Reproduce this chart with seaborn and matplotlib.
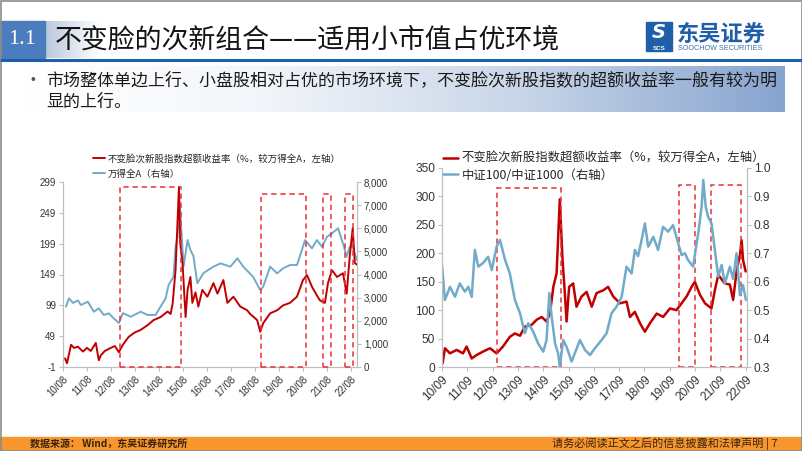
import matplotlib
matplotlib.use("Agg")
import matplotlib.dates as mdates
import matplotlib.pyplot as plt
import numpy as np
import pandas as pd
import seaborn as sns
from matplotlib.colors import LinearSegmentedColormap
from matplotlib.patches import Rectangle
from matplotlib.ticker import FuncFormatter

# ---- text ----
title_num = "1.1"
title_text = "不变脸的次新组合——适用小市值占优环境"
bullet_lines = [
    "市场整体单边上行、小盘股相对占优的市场环境下，不变脸次新股指数的超额收益率一般有较为明",
    "显的上行。",
]
source_text = "数据来源： Wind，东吴证券研究所"
disclaimer_text = "请务必阅读正文之后的信息披露和法律声明 | 7"
red_label = "不变脸次新股指数超额收益率（%，较万得全A，左轴）"
left_blue_label = "万得全A（右轴）"
right_blue_label = "中证100/中证1000（右轴）"

# ---- left chart: excess return vs Wind All A ----
left_red_dates = [
    "2010-09-01", "2010-10-01", "2010-12-01", "2011-01-15", "2011-03-15", "2011-06-01",
    "2011-08-01", "2011-09-28", "2011-12-13", "2012-01-28", "2012-02-28", "2012-04-28",
    "2012-07-28", "2012-09-28", "2012-11-28", "2013-01-28", "2013-04-28", "2013-07-28",
    "2013-10-25", "2014-02-10", "2014-05-10", "2014-08-25", "2014-12-10", "2015-01-25",
    "2015-02-25", "2015-04-10", "2015-06-01", "2015-06-20", "2015-07-25", "2015-09-10",
    "2015-10-10", "2015-11-22", "2015-12-22", "2016-02-07", "2016-03-22", "2016-05-22",
    "2016-08-07", "2016-11-07", "2017-01-07", "2017-04-07", "2017-06-07", "2017-09-07",
    "2017-12-20", "2018-04-04", "2018-05-20", "2018-09-04", "2018-10-20", "2018-12-04",
    "2019-03-20", "2019-07-04", "2019-10-04", "2020-01-16", "2020-05-01", "2020-08-01",
    "2020-10-01", "2020-12-16", "2021-03-01", "2021-04-16", "2021-07-01", "2021-08-16",
    "2021-10-16", "2022-01-01", "2022-04-01", "2022-05-28", "2022-07-13", "2022-08-28",
    "2022-09-28", "2022-10-28",
]
left_red_vals = [
    13, 5, 35, 30, 32, 24, 30, 25, 38, 10, 18, 25, 30, 33, 23, 35, 48, 55, 59, 67,
    75, 80, 89, 85, 102, 156, 291, 200, 168, 80, 124, 145, 103, 120, 97, 124, 113, 135, 118, 140,
    103, 113, 97, 91, 85, 75, 56, 70, 86, 91, 99, 103, 113, 140, 148, 129, 115, 107, 103, 135,
    156, 145, 151, 118, 178, 224, 168, 165,
]
left_blue_dates = [
    "2010-09-15", "2010-11-01", "2011-01-01", "2011-03-15", "2011-05-01", "2011-08-15",
    "2011-11-13", "2012-01-28", "2012-04-13", "2012-06-28", "2012-09-13", "2012-11-28",
    "2013-01-28", "2013-05-28", "2013-10-25", "2014-02-10", "2014-06-10", "2014-08-25",
    "2014-11-10", "2014-12-25", "2015-03-10", "2015-04-10", "2015-05-10", "2015-06-12",
    "2015-08-10", "2015-10-10", "2015-11-22", "2016-01-07", "2016-03-07", "2016-06-07",
    "2016-11-07", "2017-02-22", "2017-07-22", "2017-11-07", "2018-02-04", "2018-07-04",
    "2018-10-20", "2018-12-04", "2019-03-20", "2019-07-04", "2019-10-04", "2020-01-16",
    "2020-05-01", "2020-07-16", "2020-09-01", "2020-12-16", "2021-03-01", "2021-05-16",
    "2021-08-01", "2021-10-16", "2022-01-16", "2022-04-01", "2022-05-28", "2022-07-13",
    "2022-08-28", "2022-10-28",
]
left_blue_vals = [
    2608, 2970, 2770, 2880, 2680, 2825, 2390, 2535, 2250, 2320, 2100, 1900, 2330, 2175,
    2390, 2250, 2250, 2610, 2970, 3550, 3900, 5200, 5630, 7135, 4340, 5490, 5060, 4800,
    3620, 4060, 4340, 4480, 4340, 4700, 4340, 3900, 3330, 3475, 4340, 4050, 4270, 4410,
    4410, 5060, 5490, 5130, 5490, 5200, 5630, 5780, 6000, 5350, 4770, 5200, 5200, 4630,
]
left_boxes = [
    ("2012-12-13", "2015-06-25", 291),
    ("2018-11-04", "2020-09-16", 280),
    ("2021-06-01", "2021-10-01", 280),
    ("2022-05-01", "2022-08-28", 280),
]

# ---- right chart: excess return vs CSI100/CSI1000 ----
right_red_dates = [
    "2010-09-10", "2010-10-13", "2010-12-25", "2011-04-01", "2011-07-01", "2011-08-22",
    "2011-11-04", "2012-01-13", "2012-04-13", "2012-07-25", "2012-10-28", "2013-01-28",
    "2013-05-07", "2013-07-19", "2013-10-01", "2013-12-10", "2014-03-16", "2014-05-28",
    "2014-08-10", "2014-10-19", "2014-12-07", "2015-01-25", "2015-03-13", "2015-04-28",
    "2015-06-07", "2015-07-10", "2015-08-04", "2015-09-10", "2015-11-07", "2015-12-25",
    "2016-03-07", "2016-05-19", "2016-08-01", "2016-10-10", "2017-01-16", "2017-03-25",
    "2017-06-07", "2017-09-13", "2017-12-16", "2018-02-04", "2018-04-16", "2018-06-28",
    "2018-09-07", "2018-11-19", "2019-02-25", "2019-05-28", "2019-09-04", "2019-12-07",
    "2020-02-19", "2020-05-01", "2020-07-13", "2020-08-28", "2020-11-10", "2021-01-22",
    "2021-04-25", "2021-06-13", "2021-08-01", "2021-11-04", "2022-01-16", "2022-03-04",
    "2022-04-22", "2022-06-10", "2022-07-04", "2022-07-25", "2022-09-01",
]
right_red_vals = [
    6.5, 33, 24, 30, 24, 36, 15, 21, 27, 33, 24, 36, 53, 59, 55, 71, 74, 83, 88, 80,
    94, 141, 165, 295, 188, 130, 80, 141, 147, 106, 124, 132, 106, 130, 135, 141, 124, 112, 115, 88,
    97, 77, 62, 77, 94, 88, 103, 100, 112, 124, 141, 150, 127, 112, 103, 135, 162, 147, 145, 118,
    168, 197, 223, 188, 168,
]
right_blue_dates = [
    "2010-09-01", "2010-10-13", "2010-12-25", "2011-03-07", "2011-05-16", "2011-07-28",
    "2011-09-16", "2011-11-04", "2011-12-19", "2012-02-07", "2012-04-13", "2012-06-28",
    "2012-08-19", "2012-10-28", "2012-12-16", "2013-02-28", "2013-05-07", "2013-07-19",
    "2013-10-01", "2013-12-10", "2014-01-28", "2014-04-10", "2014-06-19", "2014-09-01",
    "2014-10-19", "2014-11-28", "2015-01-01", "2015-02-19", "2015-04-04", "2015-04-28",
    "2015-06-16", "2015-08-04", "2015-10-16", "2015-12-01", "2016-02-13", "2016-04-25",
    "2016-07-07", "2016-09-16", "2016-12-22", "2017-03-04", "2017-05-13", "2017-07-25",
    "2017-10-07", "2017-12-16", "2018-02-28", "2018-04-16", "2018-06-01", "2018-07-22",
    "2018-09-07", "2018-10-25", "2019-01-07", "2019-03-16", "2019-05-28", "2019-08-10",
    "2019-10-19", "2020-01-01", "2020-02-19", "2020-04-07", "2020-05-22", "2020-08-04",
    "2020-08-28", "2020-10-16", "2020-12-04", "2020-12-28", "2021-02-01", "2021-03-07",
    "2021-04-25", "2021-06-13", "2021-08-01", "2021-09-19", "2021-11-04", "2022-01-16",
    "2022-03-04", "2022-04-22", "2022-06-10", "2022-07-25", "2022-09-04",
]
right_blue_vals = [
    0.659, 0.536, 0.582, 0.547, 0.594, 0.565, 0.582, 0.547, 0.712, 0.653, 0.665, 0.688,
    0.641, 0.723, 0.747, 0.676, 0.629, 0.536, 0.489, 0.419, 0.454, 0.424, 0.383, 0.354,
    0.395, 0.560, 0.477, 0.383, 0.348, 0.301, 0.395, 0.371, 0.319, 0.348, 0.395, 0.360,
    0.342, 0.366, 0.395, 0.419, 0.489, 0.512, 0.547, 0.653, 0.629, 0.712, 0.690, 0.747,
    0.805, 0.723, 0.758, 0.712, 0.793, 0.776, 0.799, 0.735, 0.694, 0.700, 0.676, 0.653,
    0.694, 0.770, 0.864, 0.958, 0.864, 0.829, 0.805, 0.712, 0.618, 0.659, 0.594, 0.653,
    0.610, 0.700, 0.553, 0.588, 0.536,
]
right_boxes = [
    ("2012-11-04", "2015-05-13", 315),
    ("2020-01-10", "2020-08-28", 320),
    ("2021-04-16", "2022-06-22", 320),
]

RED = "#c00000"
BLUE = "#71abc9"
BOX_RED = "#e8303a"
GRID_GRAY = "#bfbfbf"
TICK_TXT = "#333333"
CJK = ["Noto Sans CJK SC", "DejaVu Sans"]

sns.set_theme(style="white")
plt.rcParams["font.family"] = ["Liberation Sans", "Noto Sans CJK SC"]
plt.rcParams["axes.unicode_minus"] = False

W, H = 802, 451
fig = plt.figure(figsize=(W / 100, H / 100), dpi=100)

# ---- slide decoration ----
bg = fig.add_axes([0, 0, 1, 1])
bg.set_axis_off()
grad = np.linspace(0, 1, 256)[None, :]
box_cmap = LinearSegmentedColormap.from_list(
    "bullet", [(0, "#ffffff"), (0.3, "#f3f6fa"), (0.65, "#c9d6e8"), (1, "#87a4cf")]
)
bg.imshow(grad, extent=(27, 785, 112, 66), aspect="auto", cmap=box_cmap, interpolation="bicubic")
shade_cmap = LinearSegmentedColormap.from_list("shade", ["#b9c8dc", "#ffffff"])
bg.imshow(grad, extent=(45, 100, 58, 21), aspect="auto", cmap=shade_cmap, interpolation="bicubic")
bg.add_patch(Rectangle((0, 21), 45, 37, color="#4b7cbd"))
bg.text(22.5, 40, title_num, color="white", fontsize=16, family="Liberation Serif",
        ha="center", va="center")
bg.text(55, 40, title_text, color="#141414", fontsize=19.4, family=CJK, ha="left", va="center")
bg.plot([0, W], [60, 60], color="#1f5ea8", lw=2.2, solid_capstyle="butt")

# logo
bg.add_patch(Rectangle((646, 22), 26, 22, color="#1f5ea8"))
bg.text(659, 33, "S", color="white", fontsize=14, fontweight="bold", style="italic",
        ha="center", va="center", family="DejaVu Sans")
bg.add_patch(Rectangle((646, 45), 26, 6, color="#1f5ea8"))
bg.text(659, 48, "SCS", color="white", fontsize=4.5, fontweight="bold", ha="center", va="center")
bg.text(677, 34, "东吴证券", color="#1f5ea8", fontsize=16, fontweight="bold", family=CJK,
        ha="left", va="center")
bg.text(678, 49, "SOOCHOW SECURITIES", color="#3b6fb3", fontsize=5.2, ha="left", va="center")

# bullet
bg.text(33, 80, "•", color="#555555", fontsize=10, ha="center", va="center")
bg.text(46, 80, bullet_lines[0], color="#1a1a1a", fontsize=12.25, family=CJK, ha="left", va="center")
bg.text(46, 102, bullet_lines[1], color="#1a1a1a", fontsize=12.25, family=CJK, ha="left", va="center")

# footer
bg.add_patch(Rectangle((0, 437), W, 14, color="#f7962d"))
bg.text(30, 444, source_text, color="#3a2410", fontsize=7.2, fontweight="bold", family=CJK,
        ha="left", va="center")
bg.text(778, 444, disclaimer_text, color="#3a2410", fontsize=8, family=CJK, ha="right", va="center")
bg.add_patch(Rectangle((0.5, 0.5), W - 1, H - 1, fill=False, ec="#8c8c8c", lw=1.2))
bg.set_xlim(0, W)
bg.set_ylim(H, 0)


def style_axes(ax, tw, fs):
    for a in (ax, tw):
        a.spines["top"].set_visible(False)
        for s in ("left", "right", "bottom"):
            a.spines[s].set_color(GRID_GRAY)
            a.spines[s].set_linewidth(0.8)
        a.tick_params(axis="both", length=3, width=0.8, color=GRID_GRAY,
                      labelcolor=TICK_TXT, labelsize=fs, pad=2)
        a.set_xlabel("")
        a.set_ylabel("")
        a.grid(False)
    ax.tick_params(axis="y", left=True)
    tw.tick_params(axis="y", right=True)
    ax.tick_params(axis="x", bottom=True)
    for lab in ax.get_xticklabels():
        lab.set_rotation(45)
        lab.set_ha("right")
        lab.set_rotation_mode("anchor")


def draw_boxes(ax, boxes, y0):
    for start, end, top in boxes:
        x0 = mdates.date2num(pd.Timestamp(start))
        x1 = mdates.date2num(pd.Timestamp(end))
        ax.add_patch(Rectangle((x0, y0), x1 - x0, top - y0, fill=False, ec=BOX_RED,
                               lw=1.1, ls=(0, (3.5, 2.5)), clip_on=False, zorder=5))


def panel(rect, red_d, red_v, blue_d, blue_v, blue_label, boxes, ylims, tws, xlim, month,
          fs, lw, red_on_top, leg_anchor, leg_fs, handlelen, labelspacing, yfmt):
    ax = fig.add_axes(rect)
    tw = ax.twinx()
    red_df = pd.DataFrame({"date": pd.to_datetime(red_d), "value": red_v})
    blue_df = pd.DataFrame({"date": pd.to_datetime(blue_d), "value": blue_v})
    sns.lineplot(data=red_df, x="date", y="value", ax=ax, color=RED, lw=lw, label=red_label)
    sns.lineplot(data=blue_df, x="date", y="value", ax=tw, color=BLUE, lw=lw, label=blue_label)
    for a in (ax, tw):
        if a.get_legend():
            a.get_legend().remove()
    ax.set_xlim(pd.Timestamp(xlim[0]), pd.Timestamp(xlim[1]))
    ax.set_ylim(*ylims[0])
    ax.set_yticks(ylims[1])
    tw.set_ylim(*tws[0])
    tw.set_yticks(tws[1])
    tw.yaxis.set_major_formatter(FuncFormatter(yfmt))
    ax.xaxis.set_major_locator(mdates.MonthLocator(bymonth=month))
    ax.xaxis.set_major_formatter(mdates.DateFormatter("%y/%m"))
    style_axes(ax, tw, fs)
    draw_boxes(ax, boxes, ylims[0][0])
    if red_on_top:
        ax.set_zorder(tw.get_zorder() + 1)
        ax.patch.set_visible(False)
        host = ax
    else:
        host = tw
    h1, l1 = ax.get_legend_handles_labels()
    h2, l2 = tw.get_legend_handles_labels()
    host.legend(h1 + h2, l1 + l2, loc="upper left", bbox_to_anchor=leg_anchor,
                bbox_transform=fig.transFigure, frameon=False, borderpad=0, borderaxespad=0,
                handlelength=handlelen, handletextpad=0.25, labelspacing=labelspacing,
                prop={"family": CJK, "size": leg_fs})
    return ax, tw


panel([63 / W, 1 - 367 / H, 294 / W, 185 / H],
      left_red_dates, left_red_vals, left_blue_dates, left_blue_vals, left_blue_label,
      left_boxes, ((-1, 299), np.arange(-1, 300, 50)), ((0, 8000), np.arange(0, 8001, 1000)),
      ("2010-08-01", "2022-11-01"), 8, 7, 1.4, True, (93 / W, 1 - 154 / H), 6.8, 1.3, 0.55,
      lambda v, p: f"{v:,.0f}")

panel([442 / W, 1 - 367 / H, 305 / W, 199 / H],
      right_red_dates, right_red_vals, right_blue_dates, right_blue_vals, right_blue_label,
      right_boxes, ((0, 350), np.arange(0, 351, 50)), ((0.3, 1.0), np.arange(0.3, 1.01, 0.1)),
      ("2010-09-01", "2022-09-20"), 9, 8.6, 1.8, False, (443 / W, 1 - 152 / H), 8.9, 1.25, 0.3,
      lambda v, p: f"{v:.1f}")

fig.savefig("out.png", dpi=100)
